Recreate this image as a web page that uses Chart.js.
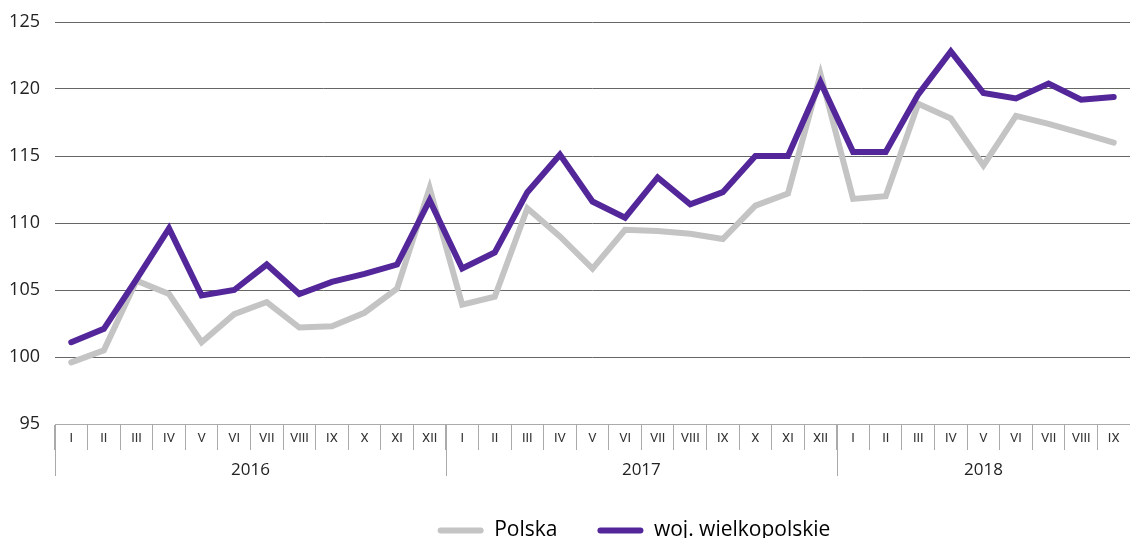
<!DOCTYPE html>
<html>
<head>
<meta charset="utf-8">
<script src="https://cdn.jsdelivr.net/npm/chart.js@4/dist/chart.umd.min.js"></script>
<style>
  html, body { margin: 0; padding: 0; background: #fff; }
  #wrap { width: 1130px; height: 538px; position: relative; }
</style>
</head>
<body>
<div id="wrap"><canvas id="myChart"></canvas></div>
<script>
const years = ['2016', '2017', '2018'];
const monthsPerYear = [12, 12, 9];
const romanMonths = ['I', 'II', 'III', 'IV', 'V', 'VI', 'VII', 'VIII', 'IX', 'X', 'XI', 'XII'];

const polska = [
  99.6, 100.5, 105.7, 104.7, 101.1, 103.2, 104.1, 102.2, 102.3, 103.3, 105.1, 112.6,
  103.9, 104.5, 111.1, 109.0, 106.6, 109.5, 109.4, 109.2, 108.8, 111.3, 112.2, 121.1,
  111.8, 112.0, 118.9, 117.8, 114.3, 118.0, 117.4, 116.7, 116.0
];
const wielkopolskie = [
  101.1, 102.1, 105.8, 109.6, 104.6, 105.0, 106.9, 104.7, 105.6, 106.2, 106.9, 111.7,
  106.6, 107.8, 112.3, 115.1, 111.6, 110.4, 113.4, 111.4, 112.3, 115.0, 115.0, 120.5,
  115.3, 115.3, 119.6, 122.8, 119.7, 119.3, 120.4, 119.2, 119.4
];
const yTicks = [95, 100, 105, 110, 115, 120, 125];

const labels = [];
monthsPerYear.forEach(n => { for (let i = 0; i < n; i++) labels.push(romanMonths[i]); });

const FONT = '"Open Sans", Roboto, sans-serif';
const MONTH_FONT = 'Roboto, sans-serif';
const GRAY = '#c4c4c4';
const PURPLE = '#53269a';

// year row under the month labels + separators between years
const yearBands = {
  id: 'yearBands',
  afterDraw(chart) {
    const x = chart.scales.x;
    const ctx = chart.ctx;
    const half = (x.getPixelForValue(1) - x.getPixelForValue(0)) / 2;
    const top = x.top;
    ctx.save();
    ctx.strokeStyle = '#aaaaaa';
    ctx.lineWidth = 1;
    ctx.fillStyle = '#222';
    ctx.font = '17px ' + FONT;
    ctx.textAlign = 'center';
    ctx.textBaseline = 'middle';
    let start = 0;
    years.forEach((yr, i) => {
      const left = x.getPixelForValue(start) - half;
      const right = x.getPixelForValue(start + monthsPerYear[i] - 1) + half;
      ctx.beginPath();
      ctx.moveTo(Math.round(left) + 0.5, top);
      ctx.lineTo(Math.round(left) + 0.5, top + 52);
      ctx.stroke();
      ctx.fillText(yr, (left + right) / 2, top + 46);
      start += monthsPerYear[i];
    });
    ctx.restore();
  }
};

// move legend like in the original (a bit right and lower)
const legendShift = {
  id: 'legendShift',
  afterLayout(chart) {
    const lg = chart.legend;
    lg.left += 69; lg.right += 69;
    lg.top += 16; lg.bottom += 16;
  }
};

new Chart(document.getElementById('myChart'), {
  type: 'line',
  data: {
    labels: labels,
    datasets: [
      {
        label: 'Polska',
        data: polska,
        borderColor: GRAY,
        backgroundColor: GRAY,
        borderWidth: 6,
        pointRadius: 0,
        tension: 0,
        borderCapStyle: 'round',
        order: 2
      },
      {
        label: 'woj. wielkopolskie',
        data: wielkopolskie,
        borderColor: PURPLE,
        backgroundColor: PURPLE,
        borderWidth: 6,
        pointRadius: 0,
        tension: 0,
        borderCapStyle: 'round',
        order: 1
      }
    ]
  },
  options: {
    responsive: true,
    maintainAspectRatio: false,
    animation: false,
    layout: { padding: { top: 22, right: 0, left: 0, bottom: 3 } },
    plugins: {
      tooltip: { enabled: false },
      legend: {
        position: 'bottom',
        labels: {
          boxWidth: 46,
          boxHeight: 6,
          padding: 40,
          useBorderRadius: true,
          borderRadius: 3,
          color: '#222',
          font: { family: FONT, size: 21 },
          generateLabels(chart) {
            return chart.data.datasets.map((ds, i) => ({
              text: ds.label,
              fillStyle: ds.borderColor,
              strokeStyle: ds.borderColor,
              lineWidth: 0,
              hidden: false,
              datasetIndex: i,
              borderRadius: 3
            }));
          }
        }
      }
    },
    scales: {
      x: {
        offset: true,
        grid: {
          offset: true,
          drawOnChartArea: false,
          drawTicks: true,
          tickLength: 26,
          color: '#aaaaaa'
        },
        border: { display: true, color: '#aaaaaa' },
        ticks: {
          autoSkip: false,
          maxRotation: 0,
          padding: -19,
          color: '#333',
          font: { family: MONTH_FONT, size: 13 }
        },
        afterFit(scale) { scale.height = 40; }
      },
      y: {
        min: 95,
        max: 125,
        afterBuildTicks(scale) { scale.ticks = yTicks.map(v => ({ value: v })); },
        grid: {
          drawTicks: true,
          tickLength: 11,
          tickColor: 'rgba(0,0,0,0)',
          color: ctx => ctx.tick.value === 95 ? 'rgba(0,0,0,0)' : '#666666'
        },
        border: { display: false },
        ticks: {
          padding: 4,
          color: '#222',
          font: { family: FONT, size: 18 }
        },
        afterFit(scale) { scale.width = 55; }
      }
    }
  },
  plugins: [yearBands, legendShift]
});
</script>
</body>
</html>
